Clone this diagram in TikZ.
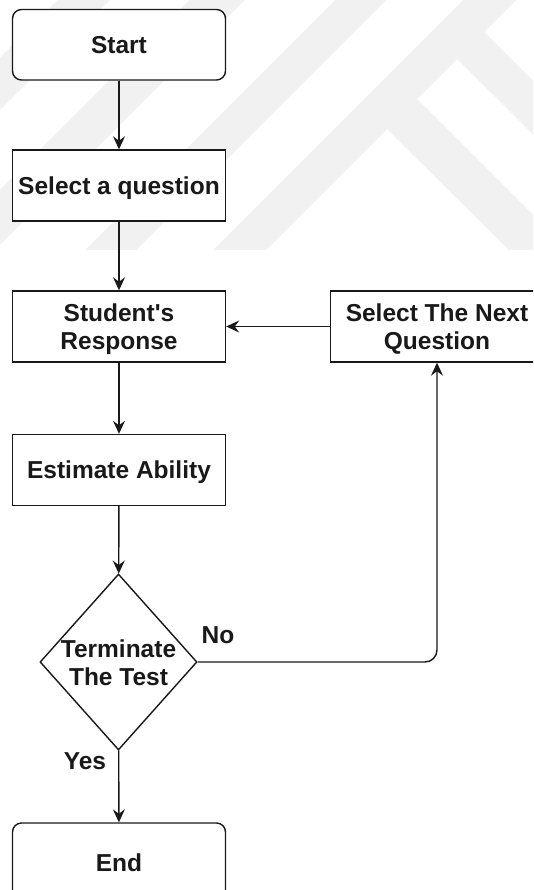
\documentclass[tikz,border=0pt]{standalone}
\usepackage{fontspec}
\setmainfont{Liberation Sans}
\usetikzlibrary{arrows.meta,shapes.geometric}
\definecolor{wmgray}{RGB}{241,241,241}
\definecolor{ink}{RGB}{25,25,25}
\begin{document}
\begin{tikzpicture}[x=1pt,y=-1pt,
  every node/.style={font=\bfseries\fontsize{24.5}{28}\selectfont, text=ink},
  proc/.style={draw=ink, fill=white, line width=1.4pt, minimum width=213pt,
    minimum height=71pt, inner sep=0pt, align=center},
  oneline/.style={text height=17.5pt, text depth=0pt},
  twoline/.style={text depth=0pt},
  endpoint/.style={proc, oneline, rounded corners=9pt},
  decision/.style={diamond, draw=ink, fill=white, line width=1.4pt,
    minimum width=157pt, minimum height=176pt, inner sep=0pt},
  flow/.style={draw=ink, line width=1.4pt, -{Stealth[length=13pt,width=12pt,inset=4.5pt]}},
  band/.style={fill=wmgray, draw=none},
  tag/.style={oneline, inner sep=0pt}
]
\useasboundingbox (0,0) rectangle (533,890);
\fill[white] (0,0) rectangle (533,890);
\clip (0,0) rectangle (533,890);

% faint background emblem, cut off along a horizontal edge
\begin{scope}
  \clip (0,0) rectangle (533,250);
  \fill[band] (58,0) -- (110,0) -- (-190,300) -- (-242,300) -- cycle;
  \fill[band] (190,0) -- (245,0) -- (-55,300) -- (-110,300) -- cycle;
  \fill[band] (335,0) -- (386,0) -- (86,300) -- (35,300) -- cycle;
  \fill[band] (463,0) -- (516,0) -- (216,300) -- (163,300) -- cycle;
  \fill[band] (417,99) -- (717,399) -- (688,428) -- (385,127) -- cycle;
  \fill[band] (484,32) -- (784,332) -- (758,358) -- (455,57) -- cycle;
\end{scope}

% flowchart nodes
\node[endpoint, minimum height=70.5pt] (start) at (119,44.75) {Start};
\node[proc, oneline] (select) at (119,185.5) {Select a question};
\node[proc, twoline] (resp) at (119,326.5) {Student\textquotesingle s\\Response};
\node[proc, oneline] (est) at (119,470) {Estimate Ability};
\node[proc, twoline] (next) at (437,326.5) {Select The Next\\Question};
\node[decision, label={[align=center, twoline, yshift=-1pt]center:Terminate\\The Test}] (term) at (118.5,662) {};
\node[endpoint, minimum height=79pt] (end) at (119,862.5) {End};

% branch labels
\node[tag] (no) at (218,634.5) {No};
\node[tag] (yes) at (85,760.5) {Yes};

% connectors
\draw[flow] (start) -- (select);
\draw[flow] (select) -- (resp);
\draw[flow] (resp) -- (est);
\draw[flow] (est) -- (term);
\draw[flow] (term) -- (end);
\draw[flow] (next) -- (resp);
\draw[flow, rounded corners=12pt] (term.east) -| (next.south);
\end{tikzpicture}
\end{document}
